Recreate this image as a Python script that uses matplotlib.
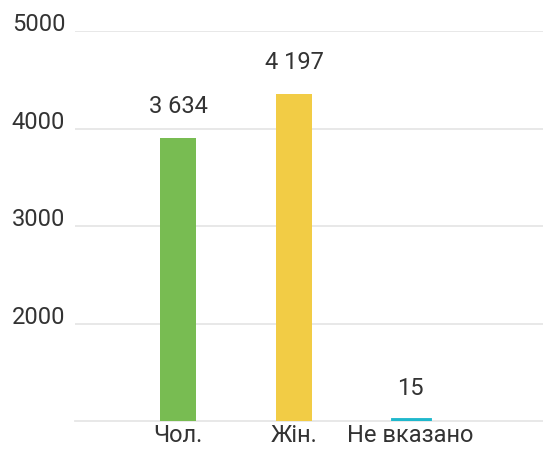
import matplotlib.pyplot as plt

plt.rcParams['font.family'] = ['Roboto', 'DejaVu Sans']

categories = ['Чол.', 'Жін.', 'Не вказано']
values = [3634, 4197, 15]
value_labels = ['3 634', '4 197', '15']
colors = ['#78bc52', '#f2cc45', '#1fb8cc']
# gridlines as drawn in the source chart, with its own labels
grid_positions = [1250, 2500, 3750, 5000]
grid_labels = ['2000', '3000', '4000', '5000']

fig = plt.figure(figsize=(5.43, 4.5), dpi=100)
ax = fig.add_axes([0.138, 0.0644, 0.862, 0.8667])

x = range(len(categories))
bars = ax.bar(x, values, width=0.31, color=colors, edgecolor=colors, linewidth=[0, 0, 3.5], zorder=3)

for b, lab in zip(bars, value_labels):
    ax.annotate(lab, (b.get_x() + b.get_width() / 2, b.get_height()),
                xytext=(0, 14), textcoords='offset points',
                ha='center', va='bottom', fontsize=17, color='#333333')

ax.set_xlim(-0.89, 3.14)
ax.set_ylim(0, 5000)
ax.set_yticks(grid_positions, grid_labels)
ax.set_xticks(list(x), categories)
ax.grid(axis='y', color='#e6e6e6', linewidth=1.3, zorder=0)
for s in ['top', 'right', 'left']:
    ax.spines[s].set_visible(False)
ax.spines['bottom'].set_color('#e6e6e6')
ax.spines['bottom'].set_linewidth(1.3)
ax.tick_params(axis='both', length=0, labelsize=17, labelcolor='#333333')
ax.tick_params(axis='y', pad=7)
ax.tick_params(axis='x', pad=2)
for t in ax.get_yticklabels():
    t.set_va('baseline')

plt.savefig('out.png', dpi=100)
